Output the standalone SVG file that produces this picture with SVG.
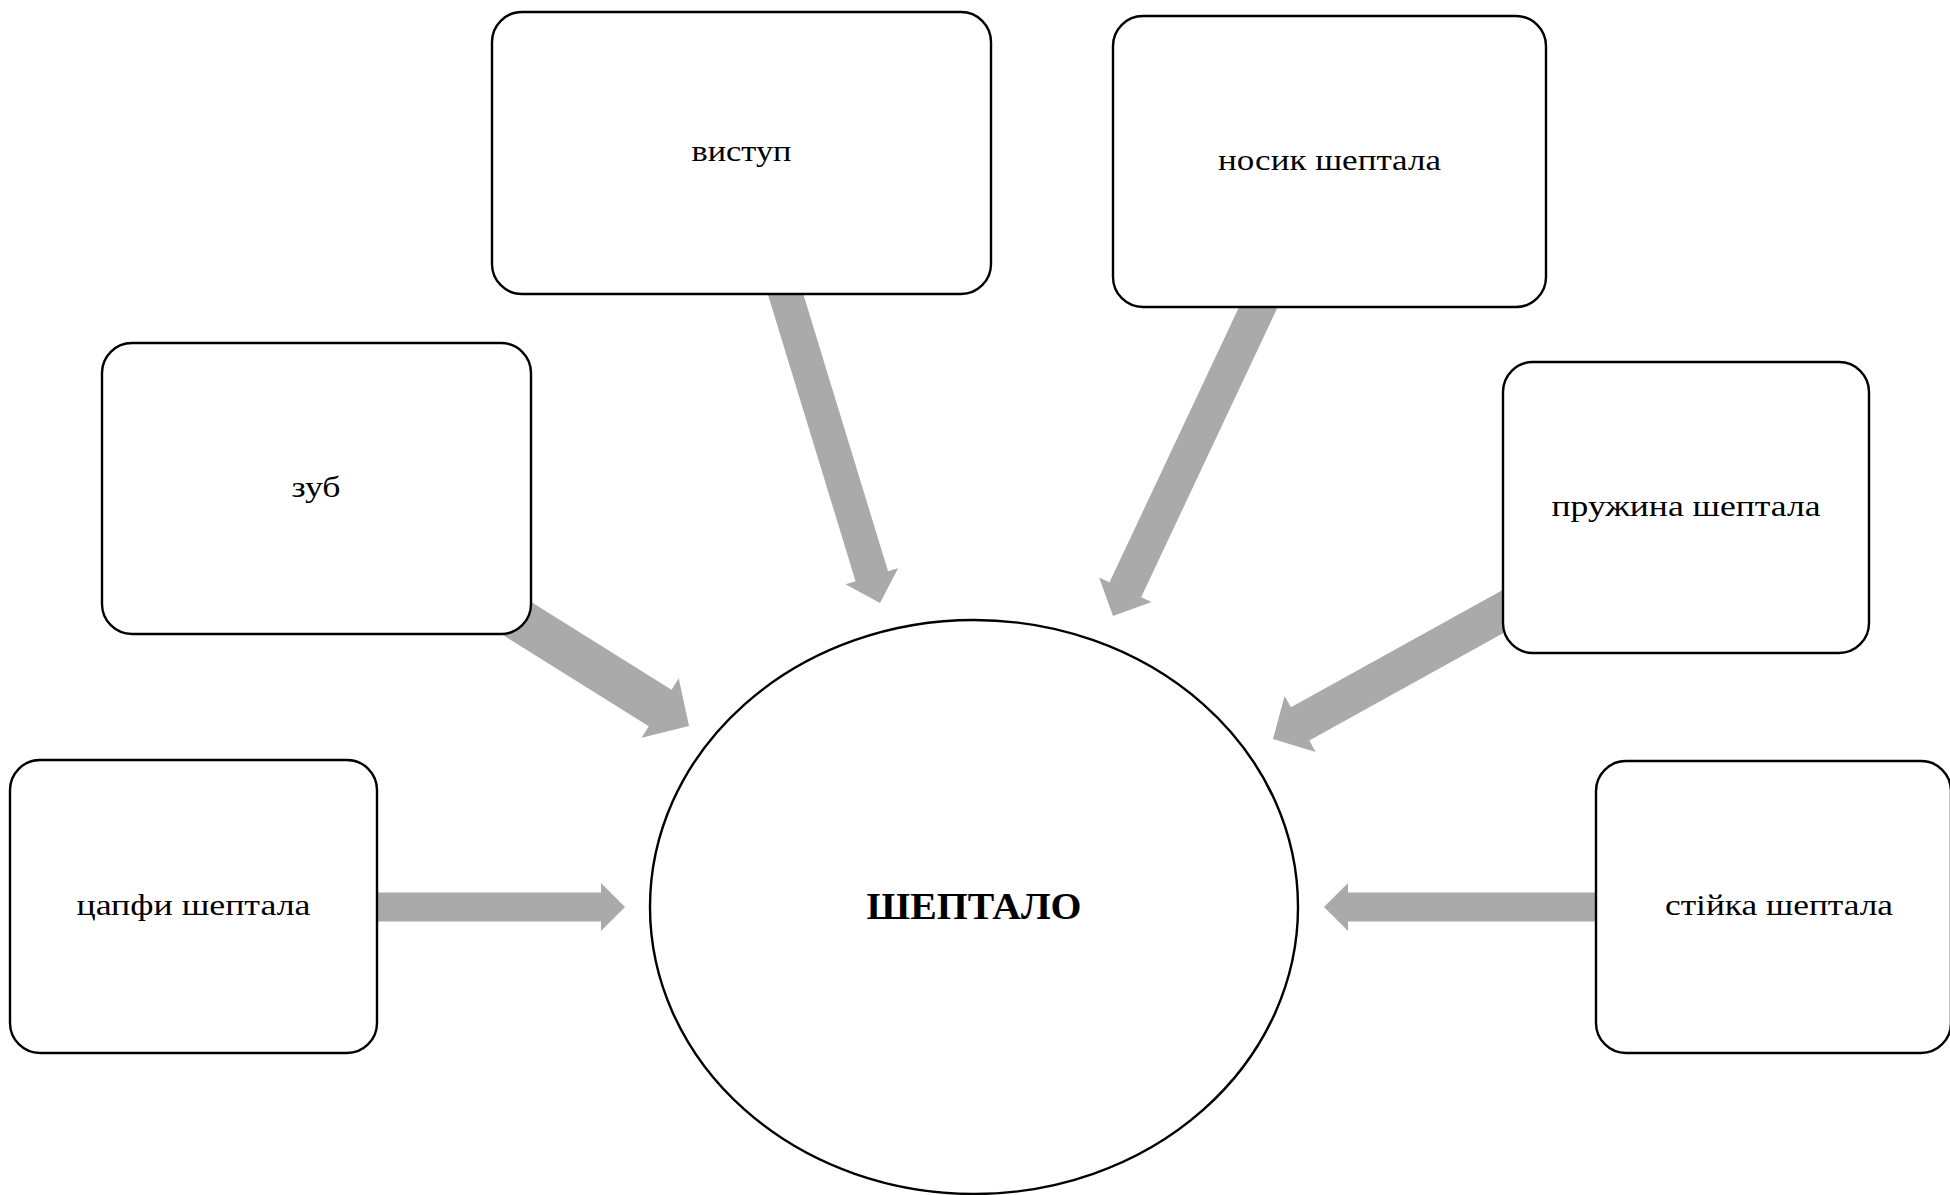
<svg xmlns="http://www.w3.org/2000/svg" width="1950" height="1195" viewBox="0 0 1950 1195">
<style>
.box{fill:#ffffff;stroke:#000000;stroke-width:2.4}
.arrow{fill:#aaaaaa;stroke:none}
.lbl{font-family:"Liberation Serif","Times New Roman",serif;font-size:29px;fill:#000000;text-anchor:middle}
.main{font-family:"Liberation Serif","Times New Roman",serif;font-size:37px;font-weight:bold;fill:#000000;text-anchor:middle}
</style>
<rect width="1950" height="1195" fill="#ffffff"/>
<g id="connectors">
<polygon class="arrow" transform="translate(625,907)" points="-258,-14.5 -24,-14.5 -24,-24 0,0 -24,24 -24,14.5 -258,14.5"/>
<polygon class="arrow" transform="translate(1324,907) rotate(180)" points="-282,-14.5 -24,-14.5 -24,-24 0,0 -24,24 -24,14.5 -282,14.5"/>
<polygon class="arrow" transform="translate(689,726) rotate(32)" points="-230,-21.5 -34,-21.5 -34,-35 0,0 -34,35 -34,21.5 -230,21.5"/>
<polygon class="arrow" transform="translate(880,603) rotate(73)" points="-340,-17 -28,-17 -28,-27.5 0,0 -28,27.5 -28,17 -340,17"/>
<polygon class="arrow" transform="translate(1113,616) rotate(115.2)" points="-360,-17.5 -29,-17.5 -29,-29 0,0 -29,29 -29,17.5 -360,17.5"/>
<polygon class="arrow" transform="translate(1273,739) rotate(151)" points="-285,-19 -31,-19 -31,-32 0,0 -31,32 -31,19 -285,19"/>
</g>
<g id="node-vystup">
<rect class="box" x="492" y="12" width="499" height="282" rx="30" ry="30"/>
<text class="lbl" x="741.5" y="161" textLength="100" lengthAdjust="spacingAndGlyphs">виступ</text>
</g>
<g id="node-nosyk">
<rect class="box" x="1113" y="16" width="433" height="291" rx="30" ry="30"/>
<text class="lbl" x="1329.5" y="170" textLength="223" lengthAdjust="spacingAndGlyphs">носик шептала</text>
</g>
<g id="node-zub">
<rect class="box" x="102" y="343" width="429" height="291" rx="30" ry="30"/>
<text class="lbl" x="316" y="497" textLength="49" lengthAdjust="spacingAndGlyphs">зуб</text>
</g>
<g id="node-pruzhyna">
<rect class="box" x="1503" y="362" width="366" height="291" rx="30" ry="30"/>
<text class="lbl" x="1686" y="516" textLength="269" lengthAdjust="spacingAndGlyphs">пружина шептала</text>
</g>
<g id="node-tsapfy">
<rect class="box" x="10" y="760" width="367" height="293" rx="30" ry="30"/>
<text class="lbl" x="193.5" y="915" textLength="234" lengthAdjust="spacingAndGlyphs">цапфи шептала</text>
</g>
<g id="node-stiika">
<rect class="box" x="1596" y="761" width="355" height="292" rx="30" ry="30"/>
<text class="lbl" x="1779" y="915" textLength="228" lengthAdjust="spacingAndGlyphs">стійка шептала</text>
</g>
<g id="node-sheptalo">
<ellipse class="box" cx="974" cy="907" rx="324" ry="287"/>
<text class="main" x="974" y="919" textLength="215" lengthAdjust="spacingAndGlyphs">ШЕПТАЛО</text>
</g>
</svg>
